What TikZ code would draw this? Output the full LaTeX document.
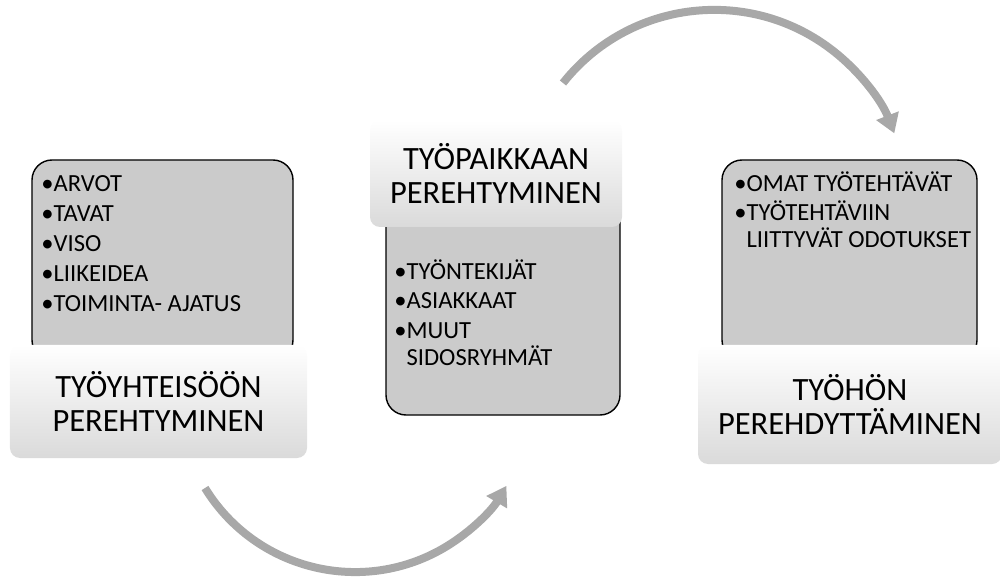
\documentclass[tikz,border=0pt]{standalone}
\usepackage{fontspec}
\setmainfont{Carlito}
\usetikzlibrary{positioning,arrows.meta}
\definecolor{BoxFill}{HTML}{CBCBCB}
\definecolor{ArrowGray}{HTML}{A8A8A8}
\definecolor{LabelBottom}{HTML}{DADADA}

\begin{document}
\begin{tikzpicture}[
  x=0.2mm, y=-0.2mm,
  contentbox/.style={draw=black, line width=0.8pt, fill=BoxFill, rounded corners=4mm, inner sep=0pt},
  labelbox/.style={rounded corners=2mm, top color=white, bottom color=LabelBottom, inner sep=0pt,
    align=center, font=\fontsize{18.5}{19.5}\selectfont},
  listtext/.style={inner sep=0pt, anchor=north west, align=left, font=\fontsize{14}{15.3}\selectfont},
  flow/.style={line width=1.6mm, color=ArrowGray, -{Triangle[length=3.8mm, width=4.6mm]}}
]
  \useasboundingbox (0,0) rectangle (1000,577);
  \node[contentbox, minimum width=52.2mm, minimum height=40mm] (yhteisobox) at (162.5,260) {};
  \node[contentbox, minimum width=46.8mm, minimum height=45mm] (paikkabox) at (503,302.5) {};
  \node[contentbox, minimum width=51mm, minimum height=40mm] (tyobox) at (849.5,260) {};
  \node[listtext] (yhteisolist) at (41,175.5) {•ARVOT\\[1.7pt] •TAVAT\\[1.7pt] •VISO\\[1.7pt] •LIIKEIDEA\\[1.7pt] •TOIMINTA- AJATUS};
  \node[listtext] (paikkalist) at (394,259) {•TYÖNTEKIJÄT\\[1.7pt] •ASIAKKAAT\\[1.7pt] •MUUT\\ \hphantom{•}SIDOSRYHMÄT};
  \node[listtext] (tyolist) at (734,171) {•OMAT TYÖTEHTÄVÄT\\[1.7pt] •TYÖTEHTÄVIIN\\ \hphantom{•}LIITTYVÄT ODOTUKSET};
  \node[labelbox, minimum width=59.4mm, minimum height=22.6mm] (yhteisolabel) at (158.5,401.5) {TYÖYHTEISÖÖN\\PEREHTYMINEN};
  \node[labelbox, minimum width=50.4mm, minimum height=21.4mm] (paikkalabel) at (496,173.5) {TYÖPAIKKAAN\\PEREHTYMINEN};
  \node[labelbox, minimum width=60.8mm, minimum height=23.8mm] (tyolabel) at (850,404.5) {TYÖHÖN\\PEREHDYTTÄMINEN};
  \coordinate (alaalku) at (205,488);
  \coordinate (ylaalku) at (563,83);
  \draw[flow] (alaalku) arc[start angle=148.5, end angle=30.7, radius=176];
  \draw[flow] (ylaalku) arc[start angle=218.4, end angle=338.9, radius=193];
\end{tikzpicture}
\end{document}
